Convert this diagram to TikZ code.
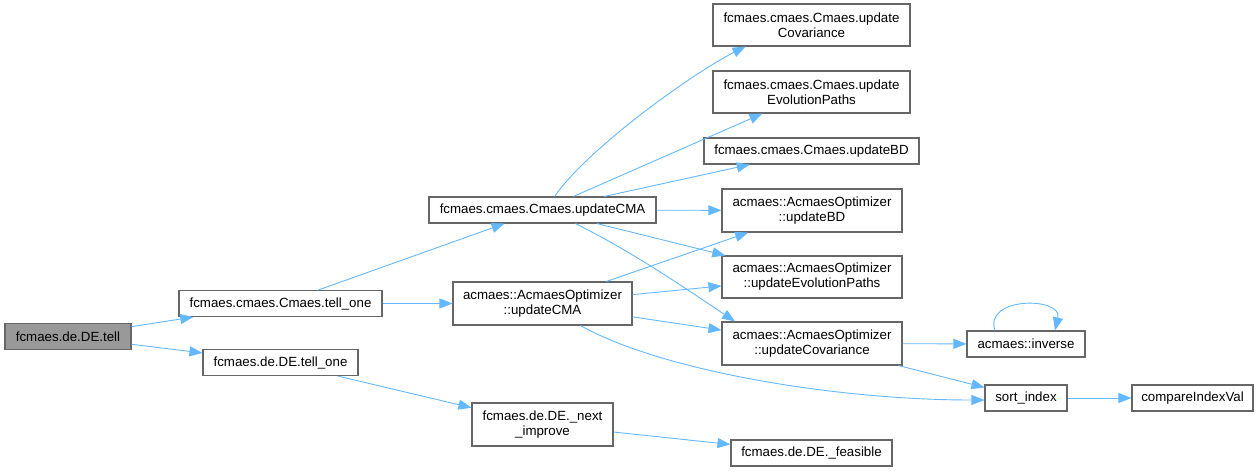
\documentclass[tikz,border=0pt]{standalone}
\usepackage{fontspec}
\setmainfont{Liberation Sans}
\usetikzlibrary{arrows.meta}
\definecolor{edgeblue}{HTML}{63B8FF}
\definecolor{boxgray}{HTML}{666666}
\definecolor{rootgray}{HTML}{999999}
\begin{document}
\begin{tikzpicture}[x=1pt, y=-1pt,
    box/.style={draw=boxgray, line width=1.1pt, fill=white, inner sep=0pt, minimum height=26pt, align=center, font=\fontsize{13.3}{15}\selectfont},
    tall/.style={box, minimum height=43pt},
    edge/.style={draw=edgeblue, line width=0.9pt, -{Triangle[length=13pt, width=10pt]}}]
    \useasboundingbox (0,0) rectangle (1260,472);
    \node (tell) at (68,336.5) [box, fill=rootgray, minimum width=126pt] {fcmaes.de.DE.tell};
    \node (ctell) at (280.5,303.5) [box, minimum width=203pt] {fcmaes.cmaes.Cmaes.tell\_one};
    \node (dtell) at (280.5,362.5) [box, minimum width=155pt] {fcmaes.de.DE.tell\_one};
    \node (cupd) at (542.5,210) [box, minimum width=227pt] {fcmaes.cmaes.Cmaes.updateCMA};
    \node (aupd) at (542.5,303.5) [tall, minimum width=179pt] {acmaes::AcmaesOptimizer\\::updateCMA};
    \node (nimp) at (542.5,424.5) [tall, minimum width=141pt] {fcmaes.de.DE.\_next\\\_improve};
    \node (ccov) at (811.5,25) [tall, minimum width=197pt, minimum height=42pt] {fcmaes.cmaes.Cmaes.update\\Covariance};
    \node (cevo) at (811.5,92) [tall, minimum width=197pt, minimum height=42pt] {fcmaes.cmaes.Cmaes.update\\EvolutionPaths};
    \node (cbd) at (811.5,151) [box, minimum width=215pt] {fcmaes.cmaes.Cmaes.updateBD};
    \node (abd) at (812,210.5) [tall, minimum width=180pt] {acmaes::AcmaesOptimizer\\::updateBD};
    \node (aevo) at (812,277) [tall, minimum width=180pt, minimum height=42pt] {acmaes::AcmaesOptimizer\\::updateEvolutionPaths};
    \node (acov) at (812,343.5) [tall, minimum width=180pt] {acmaes::AcmaesOptimizer\\::updateCovariance};
    \node (feas) at (811.5,453) [box, minimum width=161pt] {fcmaes.de.DE.\_feasible};
    \node (inv) at (1026,344) [box, minimum width=118pt] {acmaes::inverse};
    \node (sidx) at (1026,398) [box, minimum width=82pt] {sort\_index};
    \node (cmp) at (1192.5,398) [box, minimum width=121pt] {compareIndexVal};
    \draw[edge] (tell) -- (ctell);
    \draw[edge] (tell) -- (dtell);
    \draw[edge] (ctell) -- (cupd);
    \draw[edge] (ctell) -- (aupd);
    \draw[edge] (dtell) -- (nimp);
    \draw[edge] (nimp) -- (feas);
    \draw[edge] ([xshift=12pt]cupd.north) .. controls +(35,-50) and +(-50,25) .. ([xshift=-66pt]ccov.south);
    \draw[edge] (cupd) -- (cevo);
    \draw[edge] (cupd) -- (cbd);
    \draw[edge] (cupd) -- (abd);
    \draw[edge] (cupd) -- (aevo);
    \draw[edge] ([xshift=33pt]cupd.south) .. controls +(60,30) and +(-45,-30) .. ([xshift=-77pt]acov.north);
    \draw[edge] (aupd) -- (abd);
    \draw[edge] (aupd) -- (aevo);
    \draw[edge] (aupd) -- (acov);
    \draw[edge] ([xshift=38pt]aupd.south) .. controls +(80,45) and +(-150,0) .. ([yshift=-2pt]sidx.west);
    \draw[edge] (acov) -- (inv);
    \draw[edge] (acov) -- (sidx);
    \draw[edge] ([xshift=-31pt]inv.north) .. controls +(-12,-34) and +(8,-34) .. ([xshift=29pt]inv.north);
    \draw[edge] (sidx) -- (cmp);
\end{tikzpicture}
\end{document}
